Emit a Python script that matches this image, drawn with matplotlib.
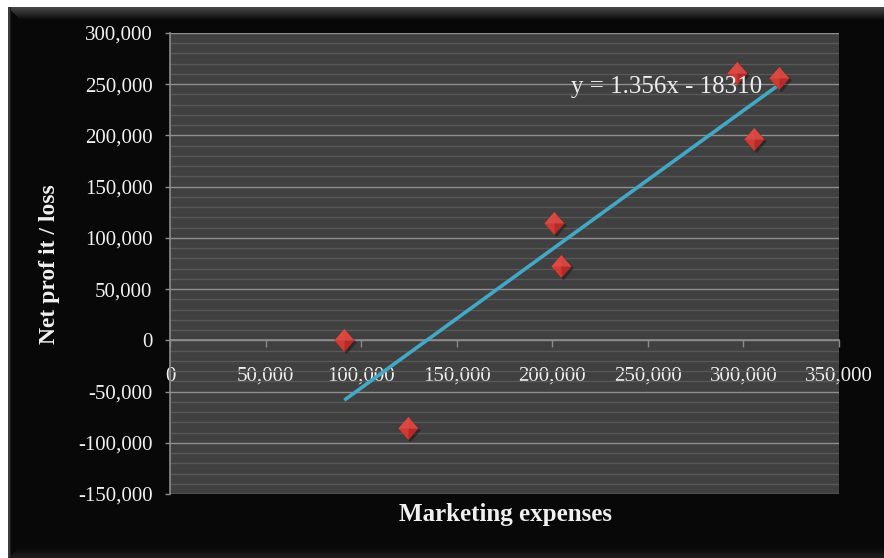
import numpy as np
import matplotlib
matplotlib.use("Agg")
import matplotlib.pyplot as plt
import matplotlib.transforms as mtransforms
from matplotlib.path import Path
from matplotlib.ticker import MultipleLocator, FuncFormatter

# Marketing expenses vs. net profit / loss
marketing = [91200, 124400, 200900, 204400, 296800, 305500, 318800]
net_profit = [0, -85700, 114700, 72400, 260800, 196500, 256000]

x_ticks = [0, 50000, 100000, 150000, 200000, 250000, 300000, 350000]
y_ticks = [-150000, -100000, -50000, 0, 50000, 100000, 150000, 200000, 250000, 300000]

x_title = "Marketing expenses"
y_title = "Net prof it / loss"
trend_label = "y = 1.356x - 18310"

W, H, DPI = 884, 558, 100
fig = plt.figure(figsize=(W / DPI, H / DPI), dpi=DPI, facecolor="white")

# ---- dark bevelled chart frame -------------------------------------------
frame = np.ones((H, W, 3))
dark = 8 / 255
frame[7:, 8:, :] = dark
# top bevel
for i, yy in enumerate(range(7, 20)):
    v = (70 - i * 5) / 255
    frame[yy, 8 + i:, :] = max(v, dark)
# left edge
frame[7:, 8:10, :] = 60 / 255
frame[7:, 10:11, :] = 30 / 255
# bottom strip
for i, yy in enumerate(range(548, H)):
    frame[yy, 8 + (H - yy):, :] = (10 + i * 2.2) / 255

bg = fig.add_axes([0, 0, 1, 1], zorder=-5)
bg.imshow(frame, extent=(0, W, H, 0), aspect="auto", interpolation="nearest")
bg.set_xlim(0, W)
bg.set_ylim(H, 0)
bg.axis("off")

# ---- plot area -----------------------------------------------------------
left, right, top, bottom = 170, 839, 33, 494
ax = fig.add_axes([left / W, 1 - bottom / H, (right - left) / W, (bottom - top) / H])
ax.set_facecolor("#404040")
ax.set_xlim(0, 350000)
ax.set_ylim(-150000, 300000)

serif = ["Liberation Serif", "DejaVu Serif"]
txt_col = "#f0f0f0"
axis_col = "#8c8c8c"

ax.yaxis.set_major_locator(MultipleLocator(50000))
ax.yaxis.set_minor_locator(MultipleLocator(10000))
ax.set_xticks(x_ticks)
ax.set_yticks(y_ticks)
fmt = FuncFormatter(lambda v, p: f"{int(v):,}")
ax.xaxis.set_major_formatter(fmt)
ax.yaxis.set_major_formatter(fmt)

ax.grid(axis="y", which="major", color="#8e8e8e", linewidth=1.0, zorder=0)
ax.grid(axis="y", which="minor", color="#585858", linewidth=1.0, zorder=0)
ax.grid(axis="x", visible=False)
ax.set_axisbelow(True)

for s in ("top", "right"):
    ax.spines[s].set_visible(False)
ax.spines["bottom"].set_position(("data", 0))
ax.spines["bottom"].set_color(axis_col)
ax.spines["left"].set_color(axis_col)
ax.spines["bottom"].set_linewidth(1.2)
ax.spines["left"].set_linewidth(1.2)

ax.tick_params(axis="x", which="major", direction="out", length=5, width=1,
               color=axis_col, pad=14, labelsize=15, labelcolor=txt_col)
ax.tick_params(axis="y", which="major", direction="out", length=3.6, width=1,
               color=axis_col, pad=9, labelsize=15, labelcolor=txt_col)
ax.tick_params(which="minor", length=0)
for lab in ax.get_xticklabels() + ax.get_yticklabels():
    lab.set_fontfamily(serif)

# ---- linear trend line (least squares) -----------------------------------
xs = np.array(marketing, dtype=float)
ys = np.array(net_profit, dtype=float)
slope, intercept = np.polyfit(xs, ys, 1)
xfit = np.array([xs.min(), xs.max()])
ax.plot(xfit, slope * xfit + intercept, color="#42a8c6", linewidth=2.6,
        solid_capstyle="butt", zorder=3)

# ---- diamond markers with a simple bevel ---------------------------------
diamond = Path([(0, 1), (0.87, 0), (0, -1), (-0.87, 0), (0, 1)],
               [Path.MOVETO, Path.LINETO, Path.LINETO, Path.LINETO, Path.CLOSEPOLY])
upper = Path([(-0.87, 0), (0, 1), (0.87, 0), (0, 0.0), (-0.87, 0)],
             [Path.MOVETO, Path.LINETO, Path.LINETO, Path.LINETO, Path.CLOSEPOLY])
left_face = Path([(-0.87, 0), (0, 1), (0, -1), (-0.87, 0)],
                 [Path.MOVETO, Path.LINETO, Path.LINETO, Path.CLOSEPOLY])

# soft shadow
shadow_tr = ax.transData + mtransforms.ScaledTranslation(1.5 / 72, -1.5 / 72, fig.dpi_scale_trans)
ax.plot(marketing, net_profit, linestyle="none", marker=diamond, markersize=17,
        markerfacecolor="#101010", markeredgewidth=0, alpha=0.45,
        transform=shadow_tr, zorder=4)
ax.plot(marketing, net_profit, linestyle="none", marker=diamond, markersize=16.5,
        markerfacecolor="#b82a27", markeredgewidth=0, zorder=5)
ax.plot(marketing, net_profit, linestyle="none", marker=left_face, markersize=16.5,
        markerfacecolor="#cf3a34", markeredgewidth=0, zorder=6)
ax.plot(marketing, net_profit, linestyle="none", marker=upper, markersize=16.5,
        markerfacecolor="#de5049", markeredgewidth=0, alpha=0.75, zorder=7)

# ---- equation label and titles -------------------------------------------
ax.text(210000, 247500, trend_label, fontsize=18, family=serif, color="#ececec",
        ha="left", va="center", zorder=8)

fig.text(506 / W, 1 - 515 / H, x_title, fontsize=18, fontweight="bold",
         family=serif, color=txt_col, ha="center", va="center")
fig.text(50 / W, 1 - 264 / H, y_title, fontsize=17, fontweight="bold",
         family=serif, color=txt_col, ha="center", va="center", rotation=90)

fig.savefig("out.png", dpi=DPI, facecolor=fig.get_facecolor())
